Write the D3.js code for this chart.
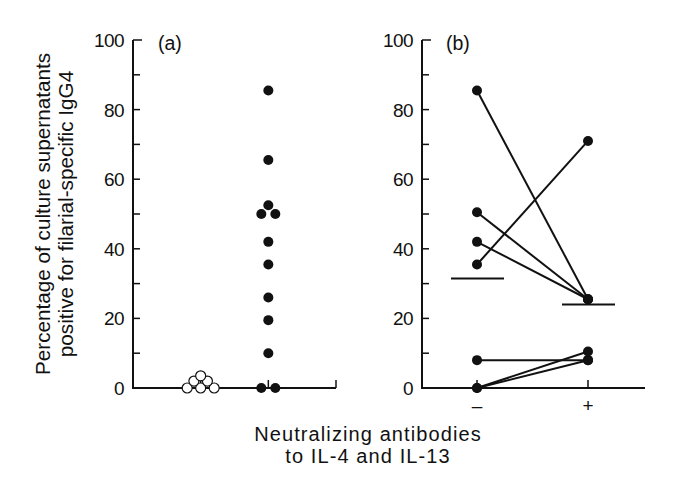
<!DOCTYPE html>
<html>
<head>
<meta charset="utf-8">
<script src="https://cdn.jsdelivr.net/npm/d3@7"></script>
<style>
  body { margin: 0; background: #fff; }
  text { font-family: "Liberation Sans", Arial, sans-serif; fill: #111; }
</style>
</head>
<body>
<svg id="chart" width="686" height="490"></svg>
<script>
// Panel (a): open circles = without antigen, filled = with antigen
var openValues = [0, 0, 0, 2, 2, 3.5]
var filledValues = [85.5, 65.5, 52.5, 50, 50, 42, 35.5, 26, 19.5, 10, 0, 0]

// Panel (b): paired values, without (–) and with (+) neutralizing antibodies
var pairMinus = [85.5, 50.5, 42, 35.5, 8, 0, 0]
var pairPlus = [25.5, 25.5, 25.5, 71, 8, 10.5, 8]
var medianMinus = 31.5
var medianPlus = 24
var bLabels = ["–", "+"]

var yTicks = [0, 20, 40, 60, 80, 100]

var svg = d3.select("#chart")
var top0 = 40, bottom0 = 388
var y = d3.scaleLinear().domain([0, 100]).range([bottom0, top0])
var r = 5

// ---------- panel (a) ----------
var xa = d3.scaleLinear().domain([0, 3]).range([133, 336])
// 0 = axis, 1 = open column, 2 = filled column, 3 = end

// spread points with equal values side by side
function dodge(values, spacing) {
    var counts = {}, seen = {}
    values.forEach(v => counts[v] = (counts[v] || 0) + 1)
    return values.map(v => {
        var i = seen[v] || 0
        seen[v] = i + 1
        return (i - (counts[v] - 1) / 2) * spacing
    })
}

function drawYAxis(g, x0) {
    g.append("line")
        .attr("x1", x0).attr("x2", x0)
        .attr("y1", y(100)).attr("y2", y(0))
        .attr("stroke", "#111").attr("stroke-width", 2)
    d3.range(10, 101, 10).forEach(v => {
        g.append("line")
            .attr("x1", x0).attr("x2", x0 + (v == 100 ? 9 : 7))
            .attr("y1", y(v)).attr("y2", y(v))
            .attr("stroke", "#111").attr("stroke-width", 1.5)
    })
    g.selectAll(".ylab")
        .data(yTicks)
        .enter()
        .append("text")
        .attr("x", x0 - 9)
        .attr("y", d => y(d) + 7)
        .attr("text-anchor", "end")
        .style("font-size", "19px")
        .style("letter-spacing", "-0.6px")
        .text(d => d)
}

var ga = svg.append("g")
drawYAxis(ga, xa(0))
ga.append("line")
    .attr("x1", xa(0) - 1).attr("x2", xa(3))
    .attr("y1", y(0)).attr("y2", y(0))
    .attr("stroke", "#111").attr("stroke-width", 2)
;[1, 2, 3].forEach(c => {
    ga.append("line")
        .attr("x1", xa(c)).attr("x2", xa(c))
        .attr("y1", y(0)).attr("y2", y(0) - 8)
        .attr("stroke", "#111").attr("stroke-width", 1.5)
})

var openOff = dodge(openValues, 13.5)
ga.selectAll(".open")
    .data(openValues)
    .enter()
    .append("circle")
    .attr("class", "open")
    .attr("cx", (d, i) => xa(1) + openOff[i])
    .attr("cy", d => y(d))
    .attr("r", r)
    .attr("fill", "#fff")
    .attr("stroke", "#111")
    .attr("stroke-width", 1.2)

var filledOff = dodge(filledValues, 14)
ga.selectAll(".filled")
    .data(filledValues)
    .enter()
    .append("circle")
    .attr("class", "filled")
    .attr("cx", (d, i) => xa(2) + filledOff[i])
    .attr("cy", d => y(d))
    .attr("r", r)
    .attr("fill", "#111")

ga.append("text").attr("x", 158).attr("y", 50)
    .style("font-size", "19.5px").text("(a)")

// ---------- panel (b) ----------
var xb = d3.scalePoint().domain(bLabels).range([477, 588])
var gb = svg.append("g")
drawYAxis(gb, 422)
gb.append("line")
    .attr("x1", 421).attr("x2", 645)
    .attr("y1", y(0)).attr("y2", y(0))
    .attr("stroke", "#111").attr("stroke-width", 2)
bLabels.forEach(c => {
    gb.append("line")
        .attr("x1", xb(c)).attr("x2", xb(c))
        .attr("y1", y(0)).attr("y2", y(0) - 8)
        .attr("stroke", "#111").attr("stroke-width", 1.5)
    gb.append("text")
        .attr("x", xb(c)).attr("y", 412)
        .attr("text-anchor", "middle")
        .style("font-size", "19px")
        .text(c)
})

var pairs = pairMinus.map((v, i) => [v, pairPlus[i]])
gb.selectAll(".pair")
    .data(pairs)
    .enter()
    .append("line")
    .attr("class", "pair")
    .attr("x1", xb("–")).attr("x2", xb("+"))
    .attr("y1", d => y(d[0])).attr("y2", d => y(d[1]))
    .attr("stroke", "#111").attr("stroke-width", 2)

gb.selectAll(".pm")
    .data(pairMinus)
    .enter()
    .append("circle")
    .attr("cx", xb("–")).attr("cy", d => y(d)).attr("r", r)
    .attr("fill", "#111")
gb.selectAll(".pp")
    .data(pairPlus)
    .enter()
    .append("circle")
    .attr("cx", xb("+")).attr("cy", d => y(d)).attr("r", r)
    .attr("fill", "#111")

// median bars
;[["–", medianMinus], ["+", medianPlus]].forEach(m => {
    gb.append("line")
        .attr("x1", xb(m[0]) - 26).attr("x2", xb(m[0]) + 27)
        .attr("y1", y(m[1])).attr("y2", y(m[1]))
        .attr("stroke", "#111").attr("stroke-width", 2)
})

gb.append("text").attr("x", 446).attr("y", 50)
    .style("font-size", "19.5px").text("(b)")

// ---------- axis titles ----------
svg.append("text").attr("x", 368).attr("y", 441)
    .attr("text-anchor", "middle").style("font-size", "20px")
    .style("letter-spacing", "1.1px")
    .text("Neutralizing antibodies")
svg.append("text").attr("x", 368).attr("y", 463)
    .attr("text-anchor", "middle").style("font-size", "20px")
    .style("letter-spacing", "1.1px")
    .text("to IL-4 and IL-13")

var yt = svg.append("text")
    .attr("transform", "translate(0,214) rotate(-90)")
    .attr("text-anchor", "middle")
    .style("font-size", "20.7px")
yt.append("tspan").attr("x", 0).attr("y", 50).text("Percentage of culture supernatants")
yt.append("tspan").attr("x", 0).attr("y", 73).text("positive for filarial-specific IgG4")
</script>
</body>
</html>
